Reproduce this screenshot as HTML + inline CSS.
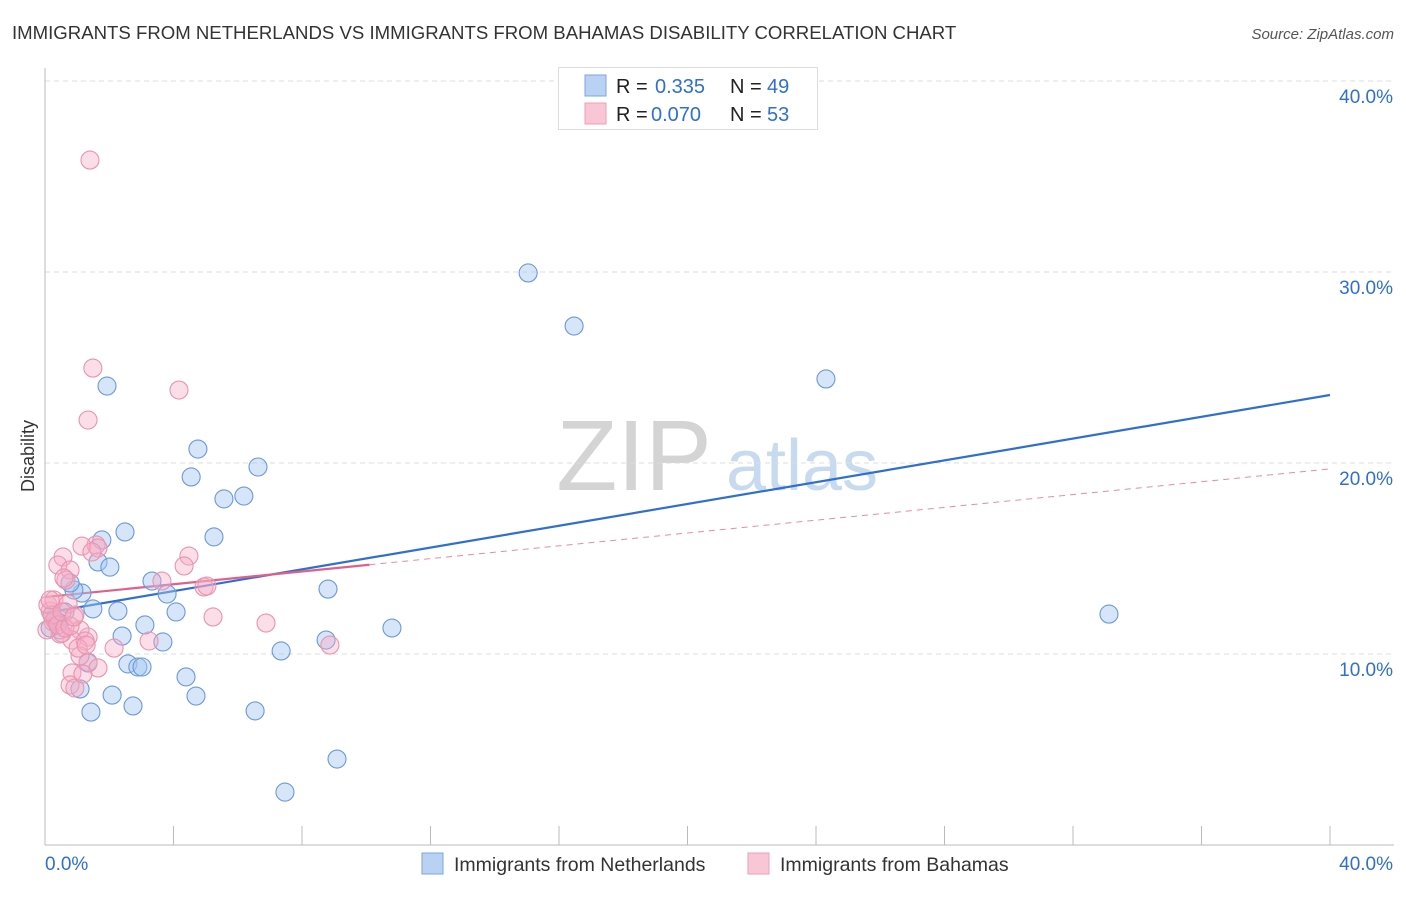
<!DOCTYPE html>
<html><head><meta charset="utf-8"><style>
body{margin:0;background:#fff;font-family:"Liberation Sans",sans-serif;}
svg text{font-family:"Liberation Sans",sans-serif;}
</style></head><body>
<svg id="chart" width="1406" height="892" viewBox="0 0 1406 892" xmlns="http://www.w3.org/2000/svg">
<text x="12" y="39" font-size="18.6" fill="#333">IMMIGRANTS FROM NETHERLANDS VS IMMIGRANTS FROM BAHAMAS DISABILITY CORRELATION CHART</text>
<text x="1394" y="39" font-size="15" fill="#555" font-style="italic" text-anchor="end">Source: ZipAtlas.com</text>
<g>
<text x="634" y="490" font-size="100" fill="#d4d4d4" font-family="Liberation Serif, serif" text-anchor="middle">ZIP</text>
<text x="802" y="490" font-size="72" fill="#c7daf0" text-anchor="middle">atlas</text>
</g>
<g id="grid"></g>
<g id="axes"></g>
<text transform="translate(34,456) rotate(-90)" font-size="18" fill="#333" text-anchor="middle">Disability</text>
<g id="trend"></g>
<g id="pts"></g>
<g>
<rect x="558.5" y="67.5" width="259" height="62" fill="#fff" stroke="#ddd"/>
<rect x="585" y="75" width="21" height="21" fill="#b9d2f4" stroke="#7da6df"/>
<rect x="585" y="103" width="21" height="21" fill="#f8c6d5" stroke="#eba0b6"/>
<text x="616" y="93" font-size="20" fill="#222">R = </text><text x="655" y="93" font-size="20" fill="#2f6fd0">0.335</text>
<text x="730" y="93" font-size="20" fill="#222">N = </text><text x="767" y="93" font-size="20" fill="#2f6fd0">49</text>
<text x="616" y="121" font-size="20" fill="#222">R = </text><text x="651" y="121" font-size="20" fill="#2f6fd0">0.070</text>
<text x="730" y="121" font-size="20" fill="#222">N = </text><text x="767" y="121" font-size="20" fill="#2f6fd0">53</text>
</g>
<g>
<rect x="422" y="853" width="21" height="21" fill="#b9d2f4" stroke="#7da6df"/>
<text x="454" y="871" font-size="19.5" fill="#333">Immigrants from Netherlands</text>
<rect x="748" y="853" width="21" height="21" fill="#f8c6d5" stroke="#eba0b6"/>
<text x="780" y="871" font-size="19.5" fill="#333">Immigrants from Bahamas</text>
</g>
</svg>
<script>
const blueX=[15.04,16.47,24.31,33.12,1.93,4.76,4.55,6.63,5.57,6.19,5.26,2.49,1.77,1.65,2.02,3.33,3.80,8.81,4.08,3.11,2.40,3.67,8.75,10.80,7.35,2.58,2.89,3.02,4.39,2.09,2.74,4.70,1.43,6.54,9.09,7.47,1.09,1.34,1.49,2.27,1.15,0.90,0.62,0.31,0.16,0.47,0.22,0.78,0.40];
const blueY=[29.95,27.17,24.40,12.09,24.03,20.73,19.27,19.79,18.12,18.27,16.13,16.39,15.97,14.82,14.55,13.82,13.14,13.40,12.20,11.52,10.94,10.63,10.73,11.36,10.16,9.48,9.32,9.32,8.80,7.85,7.28,7.80,6.96,7.02,4.50,2.77,8.17,9.53,12.36,12.25,13.19,13.35,12.20,11.78,11.36,11.26,12.04,13.72,11.68];
const pinkX=[1.40,1.49,1.34,4.17,1.59,1.15,0.56,0.40,0.78,0.65,4.48,1.65,1.46,3.64,4.33,4.95,5.04,5.23,6.88,8.87,3.24,2.15,1.34,0.93,1.09,0.84,0.47,0.25,0.16,0.09,0.28,0.72,0.53,1.25,1.34,1.65,1.09,0.84,0.78,0.93,1.18,0.31,0.22,0.06,0.40,0.62,0.78,0.16,1.03,1.28,0.53,0.59,0.90];
const pinkY=[35.86,24.97,22.25,23.82,15.71,15.65,15.08,14.66,14.40,13.87,15.13,15.55,15.34,13.82,14.61,13.51,13.56,11.94,11.62,10.47,10.68,10.31,10.89,12.04,11.26,10.73,11.05,11.68,12.25,12.57,12.83,12.62,11.10,10.68,9.58,9.27,9.90,9.01,8.38,8.22,8.95,11.78,12.04,11.26,11.52,11.36,11.47,12.83,10.31,10.47,12.20,13.98,11.94];
const yTicks=[10,20,30,40];
const yTickLabels=["10.0%","20.0%","30.0%","40.0%"];
const xTickLabels=["0.0%","40.0%"];
const blueTrend=[12.15,23.56];
const pinkTrend=[12.98,19.69];
const pinkSolidEnd=10.1;

const X0=45,X1=1330,Y0=845,PPY=19.1;
const sx=v=>X0+v*(X1-X0)/40;
const sy=v=>Y0-v*PPY;
const NS="http://www.w3.org/2000/svg";
function mk(tag,attrs,parent){const e=document.createElementNS(NS,tag);for(const k in attrs)e.setAttribute(k,attrs[k]);parent.appendChild(e);return e;}
const grid=document.getElementById('grid'),axes=document.getElementById('axes'),trend=document.getElementById('trend'),pts=document.getElementById('pts');
yTicks.forEach((t,i)=>{
  const l=mk('line',{x1:X0,x2:1394,y1:sy(t),y2:sy(t),stroke:'#ddd','stroke-dasharray':'5,4'},grid);
  
  
  const tx=mk('text',{x:1393,y:sy(t)+22,'font-size':19,fill:'#2f6fd0','text-anchor':'end'},axes);
  tx.textContent=yTickLabels[i];
  
  
});
mk('line',{x1:X0,x2:X0,y1:68,y2:Y0,stroke:'#bbb'},axes);
mk('line',{x1:X0,x2:1394,y1:Y0,y2:Y0,stroke:'#bbb'},axes);
for(let i=0;i<=10;i++){
  const t=mk('line',{x1:sx(i*4),x2:sx(i*4),y1:826,y2:Y0,stroke:'#bbb'},axes);
  
  
}
[[sx(0),'start',xTickLabels[0]],[1393,'end',xTickLabels[1]]].forEach(a=>{
  const tx=mk('text',{x:a[0],y:870,'font-size':19,fill:'#2f6fd0','text-anchor':a[1]},axes);
  tx.textContent=a[2];
  
  
});
function draw(xs,ys,fill,stroke,name){
  xs.forEach((x,i)=>{
    const c=mk('circle',{cx:sx(x),cy:sy(ys[i]),r:9,fill:fill,stroke:stroke,'stroke-width':1.1},pts);
    
    
  });
}
draw(blueX,blueY,'rgba(165,199,240,0.45)','#6b98dc','point-netherlands');
draw(pinkX,pinkY,'rgba(246,172,198,0.4)','#ea93ad','point-bahamas');
const pAt=x=>pinkTrend[0]+(pinkTrend[1]-pinkTrend[0])*x/40;
let l=mk('line',{x1:sx(pinkSolidEnd),y1:sy(pAt(pinkSolidEnd)),x2:sx(40),y2:sy(pinkTrend[1]),stroke:'#e88aa6','stroke-width':1,'stroke-dasharray':'6,5'},trend);


l=mk('line',{x1:sx(0),y1:sy(blueTrend[0]),x2:sx(40),y2:sy(blueTrend[1]),stroke:'#2f6fd0','stroke-width':2.2},trend);


l=mk('line',{x1:sx(0),y1:sy(pinkTrend[0]),x2:sx(pinkSolidEnd),y2:sy(pAt(pinkSolidEnd)),stroke:'#e0608a','stroke-width':2.2},trend);


</script>
</body></html>
